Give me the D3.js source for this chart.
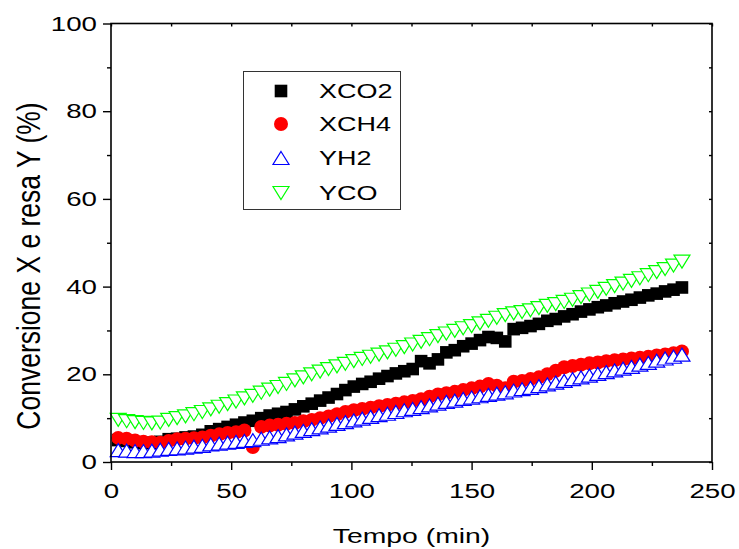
<!DOCTYPE html>
<html><head><meta charset="utf-8">
<script src="https://cdn.jsdelivr.net/npm/d3@7"></script>
<style>body{margin:0;background:#fff}svg{display:block}text{font-family:Arial,"Liberation Sans",sans-serif;fill:#000}</style>
</head><body>
<script>
const time = [3,6.5,10,13.5,17,20.5,24,27.5,31,34.5,38,41.5,45,48.5,52,55.5,59,62.5,66,69.5,73,76.5,80,83.5,87,90.5,94,97.5,101,104.5,108,111.5,115,118.5,122,125.5,129,132.5,136,139.5,143,146.5,150,153.5,157,160.5,164,167.5,171,174.5,178,181.5,185,188.5,192,195.5,199,202.5,206,209.5,213,216.5,220,223.5,227,230.5,234,237.5];
const XCO2 = [5.0,4.8,4.5,4.3,4.4,4.6,5.2,5.3,5.6,5.8,6.2,7.0,7.5,8.0,8.5,9.0,9.4,10.0,10.6,11.0,11.4,12.0,12.7,13.3,14.0,14.7,15.5,16.4,17.2,17.8,18.3,19.0,19.6,20.2,20.7,21.2,23.0,22.5,23.4,25.0,25.5,26.4,27.0,27.8,28.5,28.3,27.5,30.3,30.6,31.0,31.5,32.2,32.6,33.2,33.7,34.3,34.8,35.3,35.7,36.2,36.6,37.0,37.5,38.0,38.4,38.9,39.3,39.8];
const XCH4 = [5.5,5.3,4.9,4.6,4.5,4.4,4.8,5.2,5.3,5.4,5.6,6.0,6.3,6.6,6.8,7.2,3.4,8.0,8.3,8.5,8.7,8.9,9.3,9.6,10.0,10.4,10.9,11.4,11.8,12.1,12.4,12.7,13.0,13.3,13.6,13.9,14.3,14.9,15.4,15.7,16.0,16.4,16.8,17.2,17.8,17.4,16.8,18.3,18.5,18.9,19.3,20.0,20.8,21.6,21.9,22.2,22.5,22.7,23.0,23.2,23.4,23.6,23.8,24.0,24.3,24.5,24.8,25.2];
const YH2 = [2.7,2.6,2.5,2.5,2.6,2.8,3.0,3.1,3.3,3.5,3.7,4.0,4.2,4.4,4.6,4.8,5.0,5.3,5.6,5.9,6.3,6.7,7.1,7.5,7.9,8.3,8.7,9.1,9.5,9.9,10.3,10.7,11.0,11.4,11.8,12.1,12.5,12.9,13.3,13.7,14.0,14.4,14.7,15.0,15.3,15.6,15.9,16.3,16.6,16.9,17.3,17.7,18.1,18.5,18.9,19.3,19.7,20.1,20.5,20.9,21.3,21.7,22.2,22.6,23.1,23.6,24.0,24.5];
const YCO = [9.6,9.3,9.1,8.9,8.8,9.0,9.6,10.0,10.4,10.9,11.4,12.0,12.6,13.2,13.8,14.5,15.1,15.8,16.5,17.1,17.8,18.6,19.3,20.0,20.6,21.2,21.8,22.4,23.0,23.5,24.0,24.5,25.0,25.6,26.2,26.8,27.4,28.0,28.7,29.3,29.9,30.5,31.0,31.6,32.2,32.9,33.5,33.9,34.2,34.6,35.1,35.6,36.0,36.5,37.0,37.6,38.2,38.8,39.5,40.1,40.7,41.3,41.9,42.6,43.3,44.0,44.8,45.7];
const seriesNames = ["XCO2","XCH4","YH2","YCO"];
const xTicks = [0,50,100,150,200,250];
const yTicks = [0,20,40,60,80,100];
const xLabel = "Tempo (min)";
const yLabel = "Conversione X e resa Y (%)";

const SX=1.35; // horizontal stretch of the original picture's text
const W=739,H=549;
const L=111,R=712,T=23.5,B=462;
const svg=d3.select("body").append("svg").attr("width",W).attr("height",H);
const x=d3.scaleLinear().domain([0,250]).range([L,R]);
const y=d3.scaleLinear().domain([0,100]).range([B,T]);

const sym = {
  XCO2: s=>s.append("rect").attr("x",-6.3).attr("y",-6.3).attr("width",12.6).attr("height",12.6).attr("fill","#000"),
  XCH4: s=>s.append("circle").attr("r",7).attr("fill","#ff0000"),
  YH2: s=>s.append("path").attr("d","M0,-6.5L8,6.5L-8,6.5Z").attr("fill","#fff").attr("stroke","#0000ff").attr("stroke-width",1.2),
  YCO: s=>s.append("path").attr("d","M0,6.5L8,-6.5L-8,-6.5Z").attr("fill","#fff").attr("stroke","#00ff00").attr("stroke-width",1.2)
};
const data={XCO2,XCH4,YH2,YCO};
const plot=svg.append("g");
seriesNames.forEach(n=>{
  const g=plot.append("g");
  time.forEach((t,i)=>{
    const m=g.append("g").attr("transform",`translate(${x(t)},${y(data[n][i])})`);
    sym[n](m);
  });
});

// axes
svg.append("rect").attr("x",L).attr("y",T).attr("width",R-L).attr("height",B-T).attr("fill","none").attr("stroke","#000").attr("stroke-width",1.6);
const xb=svg.append("g").attr("transform",`translate(0,${B})`).call(d3.axisBottom(x).tickValues(xTicks).tickSize(8).tickPadding(13).tickFormat(d3.format("d")));
const xbm=svg.append("g").attr("transform",`translate(0,${B})`).call(d3.axisBottom(x).tickValues(d3.range(25,250,50)).tickSize(4).tickFormat(""));
const yl=svg.append("g").attr("transform",`translate(${L},0)`).call(d3.axisLeft(y).tickValues(yTicks).tickSize(8).tickPadding(6).tickFormat(d3.format("d")));
const ylm=svg.append("g").attr("transform",`translate(${L},0)`).call(d3.axisLeft(y).tickValues(d3.range(10,100,20)).tickSize(4).tickFormat(""));
const xt=svg.append("g").attr("transform",`translate(0,${T})`).call(d3.axisTop(x).tickValues(d3.range(0,251,25)).tickSize(-3).tickFormat(""));
const yr=svg.append("g").attr("transform",`translate(${R},0)`).call(d3.axisRight(y).tickValues(d3.range(0,101,10)).tickSize(-3).tickFormat(""));
[xb,xbm,yl,ylm,xt,yr].forEach(g=>{g.select(".domain").remove();g.selectAll("line").attr("stroke","#000").attr("stroke-width",1.4);});
[xb,yl].forEach(g=>g.selectAll("text").style("font-size","20.5px").style("font-family","Arial,'Liberation Sans',sans-serif").attr("fill","#000"));
xb.selectAll("text").attr("transform",`scale(${SX},1)`);
yl.selectAll("text").attr("x",-14/SX).attr("transform",`scale(${SX},1)`);

svg.append("text").attr("transform",`translate(${(L+R)/2},543) scale(${SX},1)`).attr("text-anchor","middle").style("font-size","21px").text(xLabel);
svg.append("text").attr("transform",`translate(40,266) rotate(-90) scale(1,${SX*0.93})`).attr("text-anchor","middle").style("font-size","26.5px").text(yLabel);

// legend
const lg=svg.append("g");
lg.append("rect").attr("x",243.5).attr("y",71.5).attr("width",157).attr("height",138).attr("fill","#fff").attr("stroke","#333").attr("stroke-width",1);
const rows=[91,124,158,193];
seriesNames.forEach((n,i)=>{
  const m=lg.append("g").attr("transform",`translate(281,${rows[i]})`);
  sym[n](m);
  lg.append("text").attr("transform",`translate(319,${rows[i]}) scale(${SX},1)`).attr("dy","0.36em").style("font-size","20px").text(n);
});
</script>
</body></html>
